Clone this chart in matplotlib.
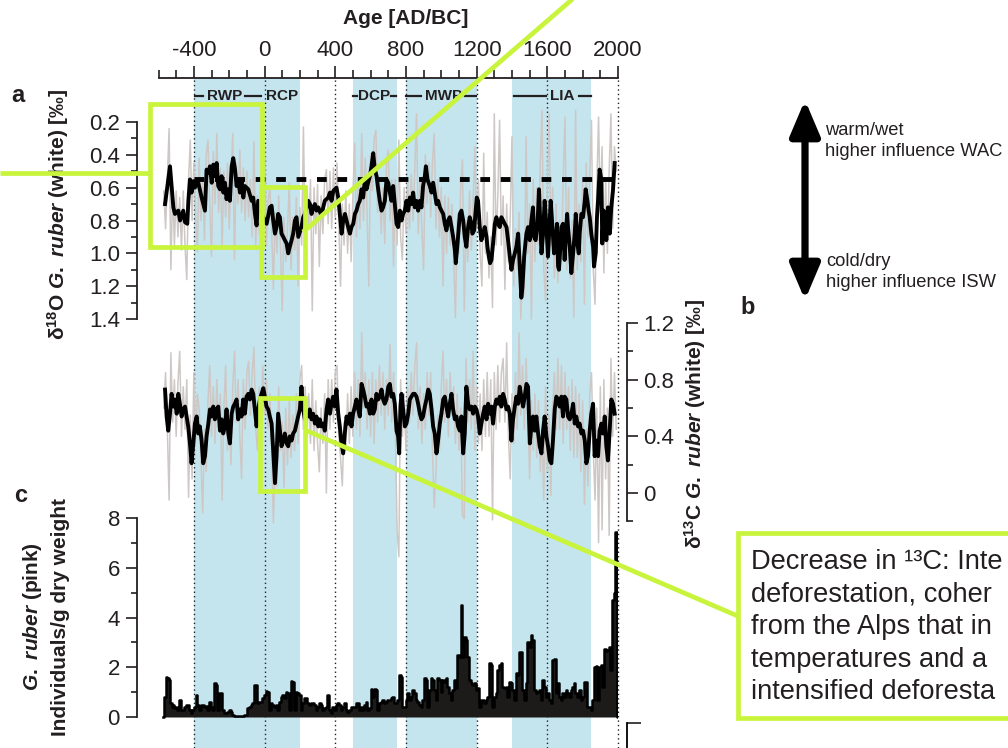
import numpy as np
import matplotlib.pyplot as plt
import matplotlib.transforms as mtransforms
from matplotlib.patches import Rectangle, FancyArrowPatch
from matplotlib.lines import Line2D
from matplotlib.ticker import MultipleLocator, FuncFormatter

plt.rcParams['font.family'] = ['Liberation Sans', 'DejaVu Sans']
plt.rcParams['axes.unicode_minus'] = False
plt.rcParams['mathtext.fontset'] = 'custom'
plt.rcParams['mathtext.rm'] = 'Liberation Sans:bold'
plt.rcParams['mathtext.bf'] = 'Liberation Sans:bold'
plt.rcParams['mathtext.it'] = 'Liberation Sans:italic:bold'

INK = '#231f20'
BAND = '#c4e5ee'
RAW = '#cdc8c6'
HILITE = '#c8f43c'

# ---- age axis and climate periods ----
age_ticks = [-400, 0, 400, 800, 1200, 1600, 2000]
age_labels = ['-400', '0', '400', '800', '1200', '1600', '2000']
shaded_spans = [(-400, 200), (500, 750), (800, 1200), (1400, 1850)]
period_names = ['RWP', 'RCP', 'DCP', 'MWP', 'LIA']
period_text_x = [-227, 97, 619, 1015, 1683]
period_dashes = [[(-395, -348), (-112, -18)], [], [(498, 526), (716, 745)],
                 [(800, 885), (1132, 1195)], [(1414, 1590), (1777, 1846)]]

# ---- d18O G. ruber (white), smoothed record ----
d18o_year = [
    -563, -535, -516, -507, -488, -478, -460, -450, -437, -431,
    -422, -413, -403, -394, -384, -375, -356, -337, -328, -318,
    -309, -299, -290, -281, -271, -262, -252, -243, -233, -224,
    -215, -205, -196, -186, -177, -167, -158, -149, -139, -130,
    -120, -111, -92, -73, -64, -54, -45, -36, -17, 12,
    30, 40, 49, 59, 68, 77, 87, 96, 106, 115,
    125, 134, 143, 153, 162, 172, 181, 191, 209, 219,
    228, 238, 247, 257, 266, 275, 285, 294, 304, 322,
    332, 341, 360, 370, 379, 389, 398, 407, 417, 426,
    436, 445, 455, 464, 473, 483, 492, 502, 511, 520,
    530, 539, 549, 558, 568, 577, 586, 596, 605, 615,
    624, 634, 643, 652, 662, 671, 681, 690, 700, 709,
    718, 728, 737, 747, 756, 766, 775, 784, 794, 803,
    813, 822, 831, 841, 850, 860, 869, 879, 888, 897,
    907, 913, 922, 935, 945, 954, 963, 973, 982, 992,
    1001, 1011, 1020, 1029, 1039, 1048, 1058, 1067, 1077, 1082,
    1092, 1099, 1105, 1114, 1124, 1133, 1142, 1152, 1161, 1171,
    1176, 1186, 1193, 1201, 1208, 1218, 1227, 1237, 1246, 1256,
    1261, 1269, 1276, 1284, 1293, 1303, 1312, 1321, 1331, 1340,
    1350, 1359, 1369, 1378, 1388, 1397, 1406, 1416, 1425, 1435,
    1444, 1453, 1459, 1469, 1476, 1482, 1491, 1501, 1510, 1519,
    1525, 1534, 1544, 1548, 1553, 1561, 1567, 1576, 1585, 1595,
    1604, 1614, 1619, 1629, 1638, 1648, 1655, 1661, 1666, 1674,
    1680, 1689, 1698, 1704, 1712, 1717, 1727, 1736, 1746, 1755,
    1761, 1770, 1778, 1783, 1793, 1802, 1812, 1817, 1827, 1834,
    1840, 1849, 1859, 1864, 1874, 1881, 1887, 1896, 1906, 1911,
    1919, 1928, 1934, 1943, 1953, 1962, 1972, 1981,
]
d18o_smooth = [
    0.70, 0.47, 0.72, 0.76, 0.74, 0.80, 0.74, 0.81, 0.82, 0.68,
    0.55, 0.63, 0.56, 0.60, 0.55, 0.57, 0.66, 0.74, 0.49, 0.51,
    0.47, 0.57, 0.46, 0.53, 0.45, 0.59, 0.61, 0.53, 0.63, 0.57,
    0.67, 0.61, 0.68, 0.47, 0.42, 0.49, 0.59, 0.55, 0.63, 0.55,
    0.66, 0.59, 0.61, 0.68, 0.66, 0.76, 0.83, 0.68, 0.76, 0.82,
    0.72, 0.71, 0.80, 0.88, 0.84, 0.76, 0.78, 0.88, 0.90, 0.92,
    0.94, 1.00, 0.96, 0.92, 0.88, 0.80, 0.78, 0.90, 0.84, 0.78,
    0.76, 0.72, 0.68, 0.70, 0.76, 0.72, 0.70, 0.74, 0.72, 0.77,
    0.72, 0.68, 0.66, 0.63, 0.68, 0.62, 0.61, 0.60, 0.66, 0.76,
    0.88, 0.80, 0.76, 0.80, 0.84, 0.88, 0.84, 0.82, 0.76, 0.74,
    0.70, 0.68, 0.61, 0.66, 0.55, 0.61, 0.57, 0.53, 0.47, 0.39,
    0.49, 0.53, 0.61, 0.68, 0.74, 0.72, 0.68, 0.55, 0.57, 0.63,
    0.68, 0.59, 0.70, 0.82, 0.84, 0.74, 0.80, 0.76, 0.74, 0.68,
    0.74, 0.66, 0.70, 0.63, 0.72, 0.68, 0.74, 0.68, 0.72, 0.59,
    0.53, 0.47, 0.55, 0.59, 0.63, 0.57, 0.63, 0.70, 0.68, 0.72,
    0.74, 0.76, 0.82, 0.86, 0.80, 0.78, 0.84, 0.90, 0.98, 1.06,
    0.94, 0.84, 0.76, 0.74, 0.80, 0.90, 0.96, 0.84, 0.78, 0.82,
    0.88, 0.86, 0.76, 0.66, 0.68, 0.84, 0.92, 0.88, 0.84, 0.90,
    0.96, 1.02, 1.06, 1.04, 0.94, 0.82, 0.78, 0.82, 0.84, 0.78,
    0.80, 0.82, 0.84, 0.92, 1.02, 1.10, 1.04, 1.00, 0.96, 0.88,
    1.08, 1.27, 1.21, 1.02, 0.94, 0.88, 0.84, 0.92, 0.80, 0.72,
    0.90, 0.92, 0.82, 0.74, 0.61, 0.84, 1.00, 0.88, 0.68, 0.84,
    1.02, 0.80, 0.68, 0.84, 1.00, 0.92, 0.82, 1.08, 1.10, 0.96,
    0.84, 0.82, 1.04, 0.90, 0.76, 0.84, 0.96, 1.12, 1.00, 0.88,
    0.76, 0.94, 1.00, 0.88, 0.76, 0.78, 0.68, 0.61, 0.68, 0.74,
    0.78, 0.88, 0.96, 1.08, 1.00, 0.78, 0.68, 0.49, 0.55, 0.94,
    0.74, 0.80, 0.92, 0.72, 0.88, 0.72, 0.61, 0.45,
]
d18o_mean = 0.55
d18o_mean_span = (-400, 1965)

# raw measurements, one value per decade from 570 BC
raw_first_year, raw_step = -570, 10
d18o_raw = [
    0.62, 0.85, 0.55, 0.24, 1.10, 0.60, 0.95, 0.62, 0.90, 0.66,
    0.98, 0.62, 0.95, 1.16, 0.55, 0.31, 0.80, 0.45, 0.75, 0.99,
    0.42, 0.80, 0.55, 0.92, 0.40, 0.31, 0.70, 1.02, 0.38, 0.70,
    0.27, 0.75, 0.48, 0.96, 0.50, 0.78, 0.45, 0.85, 0.55, 0.27,
    1.04, 0.45, 0.70, 0.37, 0.75, 0.48, 0.80, 0.50, 0.78, 0.55,
    0.90, 0.32, 0.95, 0.65, 0.88, 0.60, 0.92, 0.34, 0.95, 0.68,
    0.60, 0.85, 1.22, 0.75, 1.00, 0.65, 0.95, 1.35, 0.78, 1.05,
    0.85, 0.57, 1.10, 0.78, 0.98, 0.66, 1.20, 0.72, 0.95, 0.23,
    0.90, 0.60, 0.85, 0.55, 1.35, 0.60, 0.88, 0.58, 1.08, 0.65,
    0.88, 0.55, 0.49, 0.82, 0.50, 0.85, 0.48, 0.78, 0.45, 0.80,
    1.20, 0.70, 0.95, 0.62, 1.00, 0.70, 1.05, 0.65, 0.33, 0.90,
    0.55, 0.85, 0.27, 0.80, 0.42, 0.75, 1.20, 0.40, 0.62, 0.30,
    0.25, 0.75, 0.55, 0.88, 0.60, 0.94, 0.45, 0.37, 0.80, 0.55,
    1.08, 0.55, 0.95, 0.31, 0.90, 1.04, 0.60, 0.88, 0.55, 0.85,
    0.52, 0.80, 0.50, 0.15, 0.88, 0.55, 0.85, 1.10, 0.40, 0.70,
    0.45, 0.78, 0.45, 0.27, 0.85, 0.55, 0.90, 0.60, 1.20, 0.65,
    1.00, 0.66, 0.95, 0.70, 1.05, 1.39, 0.80, 1.00, 0.60, 0.43,
    1.35, 0.80, 1.05, 0.62, 0.98, 0.70, 0.35, 0.85, 0.55, 1.00,
    1.20, 0.39, 1.00, 0.75, 1.15, 0.90, 1.33, 0.15, 0.95, 0.65,
    0.19, 0.95, 0.65, 1.22, 0.70, 1.05, 0.80, 0.29, 1.20, 0.85,
    1.10, 0.75, 1.40, 1.05, 1.25, 0.29, 1.00, 0.70, 1.40, 0.55,
    1.05, 0.60, 0.95, 0.45, 0.13, 1.10, 1.29, 0.60, 0.15, 0.95,
    0.60, 1.15, 0.70, 1.18, 0.80, 1.05, 0.55, 0.17, 1.10, 0.60,
    1.15, 0.80, 1.39, 0.13, 1.10, 0.70, 1.05, 0.55, 1.31, 0.45,
    0.90, 0.55, 0.19, 1.10, 1.31, 0.60, 0.17, 0.75, 0.35, 1.12,
    0.55, 1.00, 0.50, 0.15, 0.85, 0.35, 0.50,
]

# ---- d13C G. ruber (white) ----
d13c_year = [
    -563, -554, -545, -535, -526, -516, -507, -497, -488, -479,
    -469, -460, -450, -441, -432, -422, -413, -403, -394, -384,
    -375, -366, -356, -347, -337, -328, -318, -309, -300, -290,
    -281, -271, -262, -252, -243, -234, -224, -215, -205, -196,
    -186, -177, -168, -158, -149, -139, -130, -121, -111, -102,
    -92, -83, -73, -64, -55, -45, -36, -26, -17, -7,
    2, 11, 21, 30, 40, 49, 59, 68, 77, 87,
    96, 106, 115, 125, 134, 143, 153, 162, 172, 181,
    190, 200, 209, 219, 228, 238, 247, 256, 266, 275,
    285, 294, 304, 313, 322, 332, 341, 351, 360, 370,
    379, 388, 398, 407, 417, 426, 435, 445, 454, 464,
    473, 483, 492, 501, 511, 520, 530, 539, 549, 558,
    567, 577, 586, 596, 605, 615, 624, 633, 643, 652,
    662, 671, 680, 690, 700, 709, 718, 728, 737, 747,
    756, 762, 769, 775, 784, 794, 803, 813, 822, 831,
    841, 850, 860, 869, 879, 888, 897, 907, 916, 926,
    935, 945, 954, 963, 973, 982, 992, 1001, 1011, 1020,
    1029, 1039, 1048, 1058, 1067, 1077, 1086, 1095, 1105, 1114,
    1124, 1133, 1142, 1152, 1161, 1171, 1180, 1190, 1199, 1208,
    1218, 1227, 1237, 1246, 1256, 1265, 1274, 1284, 1293, 1303,
    1312, 1321, 1331, 1340, 1350, 1359, 1369, 1378, 1388, 1397,
    1406, 1416, 1425, 1435, 1444, 1453, 1463, 1472, 1482, 1491,
    1501, 1510, 1519, 1529, 1538, 1548, 1557, 1567, 1576, 1585,
    1595, 1604, 1614, 1623, 1632, 1642, 1651, 1661, 1670, 1680,
    1689, 1698, 1708, 1717, 1727, 1736, 1746, 1755, 1764, 1774,
    1783, 1793, 1802, 1812, 1821, 1830, 1840, 1849, 1859, 1868,
    1878, 1887, 1896, 1906, 1915, 1925, 1934, 1943, 1953, 1962,
    1972, 1981,
]
d13c_smooth = [
    0.73, 0.54, 0.44, 0.56, 0.70, 0.61, 0.66, 0.56, 0.70, 0.63,
    0.54, 0.59, 0.61, 0.54, 0.47, 0.35, 0.21, 0.35, 0.49, 0.54,
    0.42, 0.47, 0.37, 0.21, 0.26, 0.40, 0.49, 0.59, 0.54, 0.61,
    0.52, 0.59, 0.61, 0.44, 0.52, 0.42, 0.47, 0.59, 0.42, 0.35,
    0.56, 0.61, 0.63, 0.66, 0.52, 0.59, 0.54, 0.66, 0.56, 0.68,
    0.70, 0.66, 0.73, 0.70, 0.59, 0.47, 0.59, 0.66, 0.70, 0.74,
    0.68, 0.61, 0.59, 0.54, 0.49, 0.30, 0.07, 0.26, 0.56, 0.44,
    0.33, 0.37, 0.42, 0.35, 0.33, 0.40, 0.37, 0.42, 0.44, 0.49,
    0.54, 0.59, 0.75, 0.59, 0.52, 0.56, 0.54, 0.59, 0.52, 0.56,
    0.49, 0.54, 0.47, 0.52, 0.47, 0.49, 0.44, 0.59, 0.66, 0.56,
    0.63, 0.68, 0.61, 0.73, 0.56, 0.47, 0.35, 0.28, 0.42, 0.54,
    0.49, 0.56, 0.47, 0.56, 0.61, 0.66, 0.59, 0.54, 0.77, 0.73,
    0.68, 0.61, 0.63, 0.56, 0.66, 0.56, 0.59, 0.70, 0.66, 0.68,
    0.73, 0.66, 0.63, 0.66, 0.75, 0.77, 0.68, 0.70, 0.63, 0.44,
    0.40, 0.28, 0.61, 0.70, 0.59, 0.47, 0.49, 0.56, 0.66, 0.68,
    0.70, 0.70, 0.68, 0.63, 0.56, 0.52, 0.54, 0.61, 0.66, 0.73,
    0.70, 0.59, 0.47, 0.42, 0.28, 0.37, 0.49, 0.56, 0.66, 0.68,
    0.61, 0.54, 0.63, 0.70, 0.59, 0.52, 0.54, 0.47, 0.44, 0.54,
    0.28, 0.42, 0.75, 0.63, 0.59, 0.61, 0.56, 0.61, 0.59, 0.54,
    0.42, 0.49, 0.56, 0.61, 0.52, 0.63, 0.56, 0.61, 0.49, 0.61,
    0.66, 0.63, 0.68, 0.61, 0.70, 0.66, 0.59, 0.61, 0.56, 0.37,
    0.52, 0.61, 0.68, 0.63, 0.75, 0.68, 0.61, 0.68, 0.77, 0.75,
    0.35, 0.47, 0.54, 0.44, 0.54, 0.42, 0.33, 0.28, 0.44, 0.54,
    0.40, 0.33, 0.23, 0.21, 0.37, 0.59, 0.68, 0.66, 0.61, 0.68,
    0.54, 0.68, 0.66, 0.54, 0.52, 0.56, 0.63, 0.49, 0.54, 0.47,
    0.49, 0.42, 0.44, 0.37, 0.21, 0.26, 0.44, 0.56, 0.63, 0.26,
    0.37, 0.26, 0.44, 0.49, 0.42, 0.54, 0.33, 0.23, 0.44, 0.66,
    0.63, 0.56,
]
d13c_raw = [
    0.60, 0.85, 0.45, -0.05, 0.99, 0.50, 0.80, 0.40, 0.78, 1.00,
    0.40, 0.75, 0.45, 0.80, -0.03, 0.55, 0.10, 0.85, 0.35, 0.70,
    0.60, 0.25, -0.14, 0.45, 0.15, 0.65, 0.90, 0.40, 0.75, 0.35,
    0.80, 0.45, 0.70, -0.05, 0.60, 0.90, 0.30, 0.55, 0.20, 0.75,
    1.00, 0.50, 0.80, 0.40, 0.10, 0.80, 0.45, 0.85, 0.93, 0.55,
    0.85, 1.03, 0.45, 0.30, 0.75, 0.50, 0.90, 0.55, 0.80, 0.45,
    0.70, 0.35, -0.21, 0.20, 0.05, 0.75, 0.30, 0.50, 0.04, 0.60,
    0.20, 0.65, 0.25, 0.55, 0.30, 0.70, 0.35, 0.80, 0.90, 0.45,
    0.75, 0.40, 0.70, 0.35, 0.80, 0.30, 0.65, 0.35, 0.15, 0.60,
    0.35, 0.70, 0.00, 0.80, 0.45, 0.80, 0.50, 0.85, 0.90, 0.40,
    0.25, 0.05, 0.50, 0.30, 0.70, 0.35, 0.75, 0.40, 0.85, 0.45,
    0.80, 0.40, 1.13, 0.60, 0.85, 0.45, 0.80, 0.40, 0.85, 0.35,
    0.80, 0.50, 0.90, 0.55, 0.85, 0.45, 0.80, 0.55, 1.05, 0.50,
    0.85, 0.45, -0.26, -0.45, 0.80, 0.40, 0.70, 0.30, 0.75, 0.50,
    0.85, 0.55, 0.90, 1.06, 0.45, 0.75, 0.35, 0.70, 0.45, 0.85,
    0.55, 0.85, 0.30, -0.10, 0.15, 0.55, 0.30, 0.75, 1.00, 0.50,
    0.80, 0.40, 0.85, 0.55, 0.75, 0.35, 0.70, 0.30, 0.60, -0.16,
    -0.18, 0.95, 0.50, 0.80, 0.45, 1.00, 0.30, 0.75, 0.35, 0.70,
    0.30, 0.80, 0.40, 0.85, 0.40, 0.80, -0.19, 0.85, 0.45, 0.90,
    0.50, 0.85, 0.95, 0.50, 1.06, 0.40, 0.10, 0.70, 0.35, 0.85,
    0.45, 1.13, 0.55, 0.90, 0.45, 0.95, 0.60, 0.10, 0.65, 0.30,
    0.70, 0.25, 0.65, 0.15, 0.45, -0.05, 0.75, 0.15, 0.55, -0.02,
    0.60, 0.85, 0.45, 0.95, 0.45, 0.90, 0.35, 0.85, 0.45, 0.75,
    0.30, 0.80, 0.25, 0.75, 0.25, 0.70, 0.15, 0.65, -0.08, 0.45,
    0.05, 0.70, 0.85, 0.30, -0.05, 0.60, -0.35, 0.75, -0.26, 0.80,
    0.10, 0.60, -0.30, 0.95, 0.40, 0.85, 0.45,
]

# ---- G. ruber (pink) abundance, individuals per g dry weight ----
pink_year = [
    -575, -563, -554, -545, -535, -530, -522, -516, -507, -497,
    -488, -479, -469, -460, -450, -441, -432, -422, -413, -403,
    -394, -384, -375, -366, -356, -347, -337, -328, -318, -309,
    -300, -290, -281, -271, -262, -252, -243, -234, -224, -215,
    -205, -196, -186, -177, -168, -135, -102, -92, -83, -73,
    -64, -55, -45, -36, -26, -17, -7, 2, 11, 21,
    30, 40, 49, 59, 68, 77, 87, 96, 106, 115,
    125, 134, 143, 153, 162, 172, 181, 190, 200, 209,
    219, 228, 238, 247, 256, 266, 275, 285, 294, 304,
    313, 322, 332, 341, 351, 360, 370, 379, 388, 398,
    407, 417, 426, 435, 445, 454, 464, 473, 483, 492,
    501, 511, 520, 530, 539, 549, 558, 567, 577, 586,
    596, 605, 615, 624, 633, 643, 652, 662, 671, 681,
    690, 700, 709, 718, 728, 737, 747, 756, 765, 775,
    784, 794, 803, 813, 822, 831, 841, 850, 860, 869,
    879, 888, 897, 907, 916, 926, 935, 945, 954, 963,
    973, 982, 992, 1001, 1011, 1020, 1029, 1039, 1048, 1058,
    1067, 1077, 1086, 1095, 1105, 1114, 1124, 1133, 1142, 1152,
    1161, 1171, 1180, 1190, 1199, 1208, 1218, 1227, 1237, 1246,
    1256, 1265, 1274, 1284, 1293, 1303, 1312, 1321, 1331, 1340,
    1350, 1359, 1369, 1378, 1388, 1397, 1406, 1416, 1425, 1435,
    1444, 1453, 1463, 1472, 1482, 1491, 1501, 1510, 1519, 1529,
    1538, 1548, 1557, 1567, 1576, 1585, 1595, 1604, 1614, 1623,
    1632, 1642, 1651, 1661, 1670, 1680, 1689, 1698, 1708, 1717,
    1727, 1736, 1746, 1755, 1764, 1774, 1783, 1793, 1802, 1812,
    1821, 1830, 1840, 1849, 1859, 1868, 1878, 1887, 1896, 1906,
    1915, 1925, 1934, 1943, 1953, 1962, 1972, 1981, 1987, 1994,
    2000,
]
pink_count = [
    0.00, 0.82, 1.62, 1.55, 1.49, 0.55, 0.42, 0.48, 0.35, 0.42,
    0.28, 0.68, 0.28, 0.28, 0.42, 0.48, 0.48, 0.28, 0.15, 0.28,
    0.42, 0.88, 0.48, 0.28, 0.48, 0.48, 0.42, 0.44, 0.28, 0.62,
    0.42, 0.28, 1.35, 1.29, 0.28, 0.95, 0.98, 0.28, 0.15, 0.15,
    0.21, 0.28, 0.21, 0.08, 0.05, 0.05, 0.08, 0.35, 0.42, 0.48,
    0.55, 1.29, 1.29, 0.55, 0.62, 0.62, 0.75, 0.88, 1.06, 1.02,
    0.28, 0.55, 0.48, 0.42, 0.48, 0.28, 0.62, 0.82, 0.88, 0.75,
    1.02, 0.95, 0.28, 1.46, 1.42, 0.28, 1.02, 0.95, 0.88, 0.28,
    0.55, 0.75, 0.75, 0.55, 0.48, 0.55, 0.55, 0.48, 0.28, 0.42,
    0.55, 0.48, 0.28, 0.35, 0.42, 0.88, 0.28, 0.15, 0.42, 0.28,
    0.48, 0.55, 0.48, 0.28, 0.42, 0.58, 0.28, 0.21, 0.28, 0.42,
    0.42, 0.42, 0.55, 0.58, 0.28, 0.42, 0.28, 0.48, 0.62, 0.28,
    0.35, 1.11, 0.82, 1.11, 1.09, 0.28, 0.55, 0.62, 0.68, 0.55,
    0.62, 0.68, 0.68, 0.75, 0.82, 0.55, 0.55, 0.68, 1.69, 1.62,
    0.42, 0.42, 0.68, 0.95, 0.68, 0.82, 1.09, 0.95, 0.68, 0.62,
    0.48, 0.42, 0.68, 1.55, 1.49, 0.42, 1.09, 1.55, 1.49, 1.09,
    0.68, 1.55, 1.49, 1.02, 1.49, 1.42, 1.55, 1.22, 0.95, 0.68,
    1.09, 1.49, 1.15, 2.49, 2.43, 4.50, 2.43, 3.23, 3.10, 2.43,
    1.49, 1.35, 1.29, 1.35, 1.09, 1.15, 0.42, 0.68, 0.68, 0.55,
    0.68, 0.82, 2.16, 2.09, 0.42, 0.82, 0.95, 1.89, 2.09, 2.19,
    1.22, 1.15, 1.22, 0.82, 1.42, 1.35, 1.09, 0.68, 1.76, 1.69,
    2.63, 2.63, 1.09, 0.68, 1.35, 3.03, 2.83, 3.30, 3.10, 1.09,
    0.95, 1.02, 1.09, 0.68, 1.49, 1.22, 0.82, 0.95, 0.68, 0.55,
    2.29, 2.32, 0.95, 1.35, 0.82, 0.68, 0.95, 0.82, 1.09, 0.95,
    0.82, 1.09, 1.22, 1.35, 0.95, 0.82, 1.09, 0.68, 0.82, 1.42,
    1.42, 0.42, 0.42, 0.28, 0.68, 2.02, 2.05, 0.68, 2.02, 2.09,
    1.22, 2.72, 2.67, 2.69, 2.83, 1.89, 4.70, 4.97, 7.45, 7.45,
    0.00,
]

raw_year = np.arange(len(d18o_raw)) * raw_step + raw_first_year

# ---- figure geometry (pixels) ----
W_PX, H_PX = 1008, 748
AX_LEFT, AX_RIGHT, AX_TOP = 158.5, 618, 78


def fx(px):
    return px / W_PX


def fy(py):
    return 1 - py / H_PX


def pt(px):
    return px * 0.72


def ylim_from(v1, p1, v2, p2):
    # value range that puts v1 at pixel row p1 and v2 at p2
    slope = (v2 - v1) / (p2 - p1)
    return v1 + (H_PX - p1) * slope, v1 + (AX_TOP - p1) * slope


fig = plt.figure(figsize=(W_PX / 100, H_PX / 100), dpi=100)
rect = [fx(AX_LEFT), 0, fx(AX_RIGHT) - fx(AX_LEFT), fy(AX_TOP)]

# background: age axis, period shading, dotted guides
ax_bg = fig.add_axes(rect)
ax_bg.set_xlim(-600, 2000)
ax_bg.set_ylim(0, 1)
for s in ['left', 'right', 'bottom']:
    ax_bg.spines[s].set_visible(False)
ax_bg.spines['top'].set_linewidth(1.3)
ax_bg.spines['top'].set_color(INK)
ax_bg.xaxis.tick_top()
ax_bg.set_xticks(age_ticks)
ax_bg.set_xticklabels(age_labels)
ax_bg.xaxis.set_minor_locator(MultipleLocator(100))
ax_bg.tick_params(axis='x', which='major', length=9, width=1.2, labelsize=16,
                  pad=3, colors=INK)
ax_bg.tick_params(axis='x', which='minor', length=5.5, width=1.2, colors=INK)
ax_bg.set_yticks([])
ax_bg.patch.set_visible(False)

for s, e in shaded_spans:
    ax_bg.axvspan(s, e, color=BAND, lw=0, zorder=0)
for x in age_ticks:
    ax_bg.axvline(x, color=INK, lw=1.0, ls=(0, (1, 2.2)), zorder=1, clip_on=False)

row = mtransforms.blended_transform_factory(ax_bg.transData, fig.transFigure)
for name, cx, dashes in zip(period_names, period_text_x, period_dashes):
    ax_bg.text(cx, fy(96), name, transform=row, ha='center', va='center',
               fontsize=11, fontweight='bold', color=INK)
    for s, e in dashes:
        ax_bg.plot([s, e], [fy(96), fy(96)], transform=row, color=INK, lw=1.6)

fig.text(fx(406), fy(18), 'Age [AD/BC]', ha='center', va='center',
         fontsize=15, fontweight='bold', color=INK)


def overlay(v1, p1, v2, p2):
    ax = fig.add_axes(rect)
    ax.patch.set_visible(False)
    ax.set_xlim(-600, 2000)
    ax.set_ylim(*ylim_from(v1, p1, v2, p2))
    ax.xaxis.set_visible(False)
    for s in ['top', 'bottom', 'left', 'right']:
        ax.spines[s].set_visible(False)
    return ax


def style_axis(ax, side, offset_px, bounds, major, minor, fmt):
    sp = ax.spines[side]
    sp.set_visible(True)
    sp.set_position(('outward', pt(offset_px)))
    sp.set_bounds(*bounds)
    sp.set_linewidth(1.3)
    sp.set_color(INK)
    if side == 'right':
        ax.yaxis.tick_right()
    else:
        ax.yaxis.tick_left()
    ax.set_yticks(major)
    ax.set_yticks(minor, minor=True)
    ax.yaxis.set_major_formatter(FuncFormatter(fmt))
    ax.tick_params(axis='y', which='major', length=pt(11), width=1.2,
                   labelsize=16, pad=4, colors=INK)
    ax.tick_params(axis='y', which='minor', length=pt(6), width=1.2, colors=INK)


# panel c: G. ruber (pink)
ax_c = overlay(8, 518, 0, 717)
ax_c.fill_between(pink_year, pink_count, step='mid', color='#1d1a1a', lw=0, zorder=2)
ax_c.step(pink_year, pink_count, where='mid', color='black', lw=1.8, zorder=3)
style_axis(ax_c, 'left', AX_LEFT - 136.5, (0, 8), [0, 2, 4, 6, 8], [1, 3, 5, 7],
           lambda v, p: f'{v:.0f}')

# panel b: d13C
ax_b = overlay(1.2, 323, 0, 493)
ax_b.plot(raw_year, d13c_raw, color=RAW, lw=1.1, zorder=2)
ax_b.plot(d13c_year, d13c_smooth, color='black', lw=2.8, zorder=3)
style_axis(ax_b, 'right', 627 - AX_RIGHT, (-0.2, 1.2), [0, 0.4, 0.8, 1.2],
           [-0.2, 0.2, 0.6, 1.0], lambda v, p: '0' if abs(v) < 1e-9 else f'{v:.1f}')

# panel a: d18O
ax_a = overlay(0.2, 122, 1.4, 319)
ax_a.plot(raw_year, d18o_raw, color=RAW, lw=1.1, zorder=2)
ax_a.plot(d18o_year, d18o_smooth, color='black', lw=2.8, zorder=3)
ax_a.plot(d18o_mean_span, [d18o_mean, d18o_mean], color='black', lw=3.5,
          ls=(0, (2.0, 2.2)), zorder=4)
style_axis(ax_a, 'left', AX_LEFT - 136.5, (0.2, 1.4), [0.2, 0.4, 0.6, 0.8, 1.0, 1.2, 1.4],
           [0.3, 0.5, 0.7, 0.9, 1.1, 1.3], lambda v, p: f'{v:.1f}')

# top of the next panel down
ax_d = fig.add_axes([rect[0], 0, rect[2], fy(723)])
ax_d.patch.set_visible(False)
ax_d.set_ylim(-1, 1)
ax_d.xaxis.set_visible(False)
for s in ['top', 'bottom', 'left']:
    ax_d.spines[s].set_visible(False)
ax_d.spines['right'].set_position(('outward', pt(627 - AX_RIGHT)))
ax_d.spines['right'].set_linewidth(1.3)
ax_d.yaxis.tick_right()
ax_d.set_yticks([1])
ax_d.set_yticklabels([''])
ax_d.tick_params(axis='y', length=pt(14), width=1.2, colors=INK)

# axis titles and panel letters
fig.text(fx(58), fy(214), 'δ$^{18}$O $\\mathit{G.\\ ruber}$ (white) [‰]', rotation=90,
         ha='center', va='center', fontsize=15, fontweight='bold', color=INK)
fig.text(fx(695), fy(424), 'δ$^{13}$C $\\mathit{G.\\ ruber}$ (white) [‰]', rotation=90,
         ha='center', va='center', fontsize=15, fontweight='bold', color=INK)
fig.text(fx(33), fy(617), '$\\mathit{G.\\ ruber}$ (pink)', rotation=90,
         ha='center', va='center', fontsize=15, fontweight='bold', color=INK)
fig.text(fx(60), fy(617), 'Individuals/g dry weight', rotation=90,
         ha='center', va='center', fontsize=15, fontweight='bold', color=INK)
for letter, x, y in [('a', 18, 96), ('b', 748, 307), ('c', 21, 495)]:
    fig.text(fx(x), fy(y), letter, ha='center', va='center', fontsize=17,
             fontweight='bold', color=INK)

# interpretation arrow for the d18O scale
arrow = FancyArrowPatch((fx(805), fy(300)), (fx(805), fy(100)), transform=fig.transFigure,
                        arrowstyle='<|-|>,head_length=0.85,head_width=0.36',
                        mutation_scale=25, lw=5.2, color='black',
                        shrinkA=0, shrinkB=0)
fig.add_artist(arrow)
fig.text(fx(825), fy(141), 'warm/wet\nhigher influence WAC', ha='left', va='center',
         fontsize=13.2, linespacing=1.25, color=INK)
fig.text(fx(826), fy(272), 'cold/dry\nhigher influence ISW', ha='left', va='center',
         fontsize=13.2, linespacing=1.25, color=INK)

# highlight frames and call-out
def frame(x0, y0, x1, y1, face='none'):
    r = Rectangle((fx(x0), fy(y1)), fx(x1) - fx(x0), fy(y0) - fy(y1),
                  transform=fig.transFigure, facecolor=face, edgecolor=HILITE,
                  lw=3.4, zorder=10)
    fig.add_artist(r)


def leader(x0, y0, x1, y1):
    fig.add_artist(Line2D([fx(x0), fx(x1)], [fy(y0), fy(y1)], transform=fig.transFigure,
                          color=HILITE, lw=3.4, zorder=10, solid_capstyle='butt'))


frame(150, 104, 262, 247)
leader(0, 173, 150, 173)
frame(261, 187, 305, 277)
leader(303, 232, 583, -10)
frame(260, 398, 305, 491)
leader(305, 430, 740, 617)
frame(738, 533, 1030, 718, face='white')
fig.text(fx(751), fy(549),
         'Decrease in ¹³C: Inte\n'
         'deforestation, coher\n'
         'from the Alps that in\n'
         'temperatures and a\n'
         'intensified deforesta',
         ha='left', va='top', fontsize=19.6, linespacing=1.33, color=INK, zorder=11)

fig.savefig('out.png', dpi=100)
